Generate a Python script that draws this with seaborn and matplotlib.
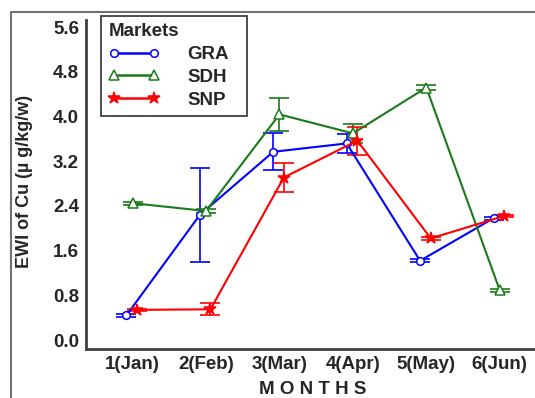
import matplotlib
matplotlib.use("Agg")
import matplotlib.pyplot as plt
from matplotlib.lines import Line2D
import numpy as np
import pandas as pd
import seaborn as sns

# Months and market series (EWI of Cu, mean and error)
months = ["1(Jan)", "2(Feb)", "3(Mar)", "4(Apr)", "5(May)", "6(Jun)"]
markets = ["GRA", "SDH", "SNP"]

gra_mean = [0.44, 2.24, 3.37, 3.52, 1.42, 2.18]
gra_err = [0.03, 0.84, 0.33, 0.17, 0.03, 0.03]

sdh_mean = [2.45, 2.31, 4.04, 3.70, 4.52, 0.89]
sdh_err = [0.03, 0.03, 0.30, 0.17, 0.05, 0.03]

snp_mean = [0.54, 0.55, 2.91, 3.57, 1.82, 2.22]
snp_err = [0.02, 0.11, 0.26, 0.25, 0.03, 0.02]

y_ticks = [0.0, 0.8, 1.6, 2.4, 3.2, 4.0, 4.8, 5.6]

colors = {"GRA": "#0000ff", "SDH": "#1a7a1a", "SNP": "#ff0000"}
markers = {"GRA": "o", "SDH": "^", "SNP": "*"}
msizes = {"GRA": 5.5, "SDH": 6.5, "SNP": 9}
shift = {"GRA": -0.085, "SDH": 0.0, "SNP": 0.06}

means = {"GRA": gra_mean, "SDH": sdh_mean, "SNP": snp_mean}
errs = {"GRA": gra_err, "SDH": sdh_err, "SNP": snp_err}

rows = []
for m in markets:
    for i, (v, e) in enumerate(zip(means[m], errs[m])):
        rows.append({"market": m, "month": i + 1, "x": i + 1 + shift[m],
                     "ewi": v, "err": e})
df = pd.DataFrame(rows)

sns.set_theme(style="white")
plt.rcParams["font.family"] = ["Liberation Sans", "DejaVu Sans"]
plt.rcParams["font.weight"] = "bold"

fig = plt.figure(figsize=(5.35, 3.98), dpi=100)
ax = fig.add_axes([86 / 535, 1 - 349.3 / 398, 1 - 86 / 535, (349.3 - 20) / 398])

for m in markets:
    sub = df[df["market"] == m]
    ax.errorbar(sub["x"], sub["ewi"], yerr=sub["err"], fmt="none",
                ecolor=colors[m], elinewidth=1.2, capsize=7.5, capthick=1.2,
                zorder=2)
    sns.lineplot(data=sub, x="x", y="ewi", ax=ax, color=colors[m],
                 linewidth=1.5, marker=markers[m], markersize=msizes[m],
                 markerfacecolor=("white" if m != "SNP" else colors[m]),
                 markeredgecolor=colors[m], markeredgewidth=1.1,
                 legend=False, zorder=3, errorbar=None)

ax.set_xlim(0.365, 6.48)
ax.set_ylim(-0.166, 5.73)
ax.set_xticks(range(1, len(months) + 1))
ax.set_xticklabels(months)
ax.set_yticks(y_ticks)
ax.set_yticklabels([f"{t:.1f}" for t in y_ticks])
ax.tick_params(axis="both", direction="in", length=7, width=1.5,
               color="#404040", labelsize=13.5, pad=5)
for lab in ax.get_xticklabels() + ax.get_yticklabels():
    lab.set_fontweight("bold")

for side in ["top", "right"]:
    ax.spines[side].set_visible(False)
for side in ["left", "bottom"]:
    ax.spines[side].set_color("#404040")
    ax.spines[side].set_linewidth(2)

ax.set_xlabel("")
ax.set_ylabel("")
fig.text(25 / 535, 1 - 181 / 398, "EWI of Cu (µ g/kg/w)", rotation=90,
         ha="center", va="center", fontsize=13, fontweight="bold")
fig.text(313 / 535, 1 - 389.5 / 398, "M O N T H S", ha="center", va="center",
         fontsize=13.5, fontweight="bold")

handles = [Line2D([0], [0], color=colors[m], linewidth=1.8, marker=markers[m],
                  markersize=msizes[m],
                  markerfacecolor=("white" if m != "SNP" else colors[m]),
                  markeredgecolor=colors[m], markeredgewidth=1.1)
           for m in markets]
leg = ax.legend(handles, markets, title="Markets", numpoints=2,
                loc="upper left",
                bbox_to_anchor=(101 / 535, 1 - 118 / 398, 146 / 535, 102 / 398),
                bbox_transform=fig.transFigure, mode="expand",
                frameon=True, fancybox=False,
                framealpha=1, edgecolor="#404040", fontsize=13.5,
                title_fontproperties={"weight": "bold", "size": 13.5},
                handlelength=2.7, handletextpad=1.5, labelspacing=0.3,
                borderpad=0.4, borderaxespad=0)
leg.get_frame().set_linewidth(1.3)
leg._legend_box.align = "left"
for t in leg.get_texts():
    t.set_fontweight("bold")

# Outer frame
fig.add_artist(Line2D([11 / 535, 11 / 535, 1.0], [0.0, 1 - 12 / 398, 1 - 12 / 398],
                      transform=fig.transFigure, color="#707070", linewidth=1.5))

fig.savefig("out.png", dpi=100)
